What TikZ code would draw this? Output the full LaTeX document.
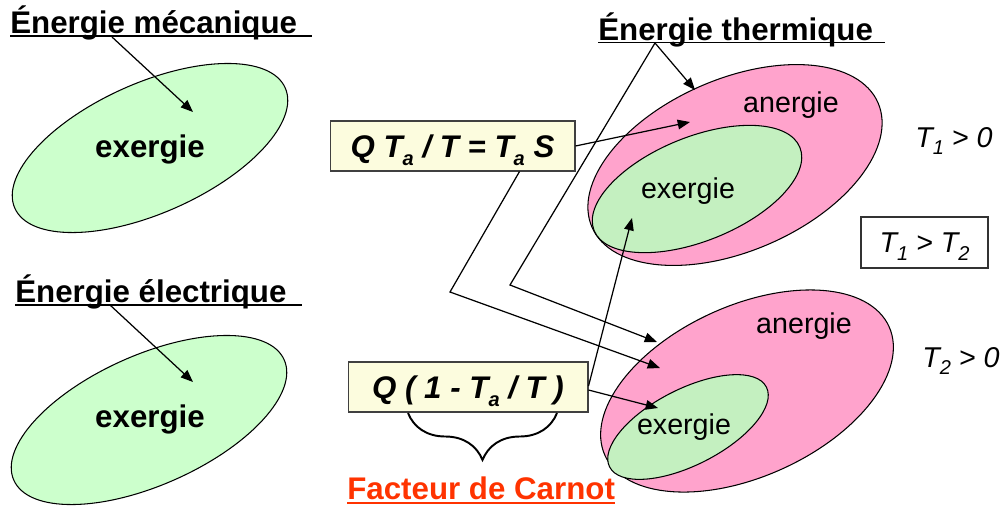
\documentclass[tikz,border=0pt]{standalone}
\usepackage{fontspec}
\setmainfont{Liberation Sans}
\usetikzlibrary{shapes.geometric, decorations.pathreplacing, arrows.meta, positioning, calc}
\definecolor{mint}{RGB}{204,255,204}
\definecolor{exgreen}{RGB}{196,240,192}
\definecolor{anpink}{RGB}{255,163,204}
\definecolor{cream}{RGB}{252,252,222}
\definecolor{carnot}{RGB}{255,51,0}
\newcommand{\lowsub}[1]{\raisebox{-0.27em}{\fontsize{11.4}{12}\selectfont #1}}

\begin{document}
\begin{tikzpicture}[x=0.02cm, y=-0.02cm,
    big/.style={font=\fontsize{17.8}{20}\selectfont\bfseries},
    small/.style={font=\fontsize{16.3}{19}\selectfont},
    ital/.style={font=\fontsize{16.3}{19}\selectfont\itshape},
    head/.style={big, anchor=base west, inner sep=0pt},
    lbl/.style={anchor=base, inner sep=0pt},
    blob/.style={ellipse, draw, line width=0.6pt, inner sep=0pt},
    formula/.style={draw=black!75, line width=0.6pt, fill=cream, inner sep=0pt, minimum height=1cm,
        text height=12.7pt, text depth=0pt, font=\fontsize{17.8}{20}\selectfont\bfseries\itshape},
    arr/.style={-{Triangle[length=7pt,width=5.5pt]}, line width=0.7pt}]
    \useasboundingbox (0,0) rectangle (1007,508);

    \node[blob, fill=mint, minimum width=5.92cm, minimum height=2.6cm, rotate=24] (mecE) at (150,148) {};
    \node[blob, fill=mint, minimum width=5.92cm, minimum height=2.6cm, rotate=24] (eleE) at (149,420) {};
    \node[big, lbl] (mecX) at (150,157) {exergie};
    \node[big, lbl] (eleX) at (150,427) {exergie};

    \node[blob, fill=anpink, minimum width=6.24cm, minimum height=3.44cm, rotate=23.5] (th1) at (735,165) {};
    \node[blob, fill=exgreen, minimum width=4.44cm, minimum height=2.08cm, rotate=22] (ex1) at (697,189) {};
    \node[blob, fill=anpink, minimum width=6.24cm, minimum height=3.42cm, rotate=24.4] (th2) at (747,391) {};
    \node[blob, fill=exgreen, minimum width=3.52cm, minimum height=1.52cm, rotate=27] (ex2) at (688,427) {};
    \node[small, lbl] (an1) at (791,112) {anergie};
    \node[small, lbl] (x1) at (688,198) {exergie};
    \node[small, lbl] (an2) at (804,333) {anergie};
    \node[small, lbl] (x2) at (684,434) {exergie};

    \node[head] (mec) at (10,33) {Énergie mécanique};
    \node[head] (ele) at (15,302) {Énergie électrique};
    \node[head] (the) at (598,40) {Énergie thermique};
    \draw[line width=0.75pt] ($(mec.base west)+(0,3)$) -- ++(302,0);
    \draw[line width=0.75pt] ($(ele.base west)+(0,3)$) -- ++(287,0);
    \draw[line width=0.75pt] ($(the.base west)+(0,2.5)$) -- ++(287,0);

    \node[formula, minimum width=4.9cm] (q1) at (452.5,146) {Q T\lowsub{a} / T = T\lowsub{a} S};
    \node[formula, minimum width=4.8cm] (q2) at (468,387) {Q ( 1 - T\lowsub{a} / T )};

    \node[ital, anchor=base west, inner sep=0pt] (t1) at (915,147) {T\lowsub{1} > 0};
    \node[ital, anchor=base west, inner sep=0pt] (t2) at (922,367) {T\lowsub{2} > 0};
    \node[ital, draw=black!80, line width=0.6pt, inner sep=0pt, minimum width=2.54cm, minimum height=1.02cm,
        text height=11.7pt, text depth=0pt] (cmp) at (924.5,242.5) {T\lowsub{1} > T\lowsub{2}};

    \coordinate (bl) at (408,413);
    \coordinate (br) at (557,413);
    \draw[line width=1.1pt, decorate, decoration={brace, mirror, amplitude=0.94cm}] (bl) -- (br);
    \node[big, text=carnot, anchor=base west, inner sep=0pt] (fc) at (347,499) {Facteur de Carnot};
    \draw[carnot, line width=0.75pt] ($(fc.base west)+(0,4)$) -- ++(268,0);

    \coordinate (mecT) at (193,112);
    \coordinate (eleT) at (193,382);
    \coordinate (thS) at ($(the.base west)+(57,3)$);
    \coordinate (thK) at (510,285);
    \coordinate (qK) at (450,292);
    \coordinate (th1T) at (695,90);
    \coordinate (th2T) at (657,342);
    \coordinate (an1T) at (690,122);
    \coordinate (an2T) at (660,368);
    \coordinate (ex1T) at (632,218);
    \coordinate (ex2T) at (658,408);
    \draw[arr] ($(mec.base west)+(102,4)$) -- (mecT);
    \draw[arr] ($(ele.base west)+(95,3)$) -- (eleT);
    \draw[arr] (thS) -- (th1T);
    \draw[arr] (thS) -- (thK) -- (th2T);
    \draw[arr] (q1.east) -- (an1T);
    \draw[arr] ($(q1.south)+(67,0)$) -- (qK) -- (an2T);
    \draw[arr] ($(q2.east)+(0,-1)$) -- (ex1T);
    \draw[arr] ($(q2.east)+(0,3)$) -- (ex2T);
\end{tikzpicture}
\end{document}
